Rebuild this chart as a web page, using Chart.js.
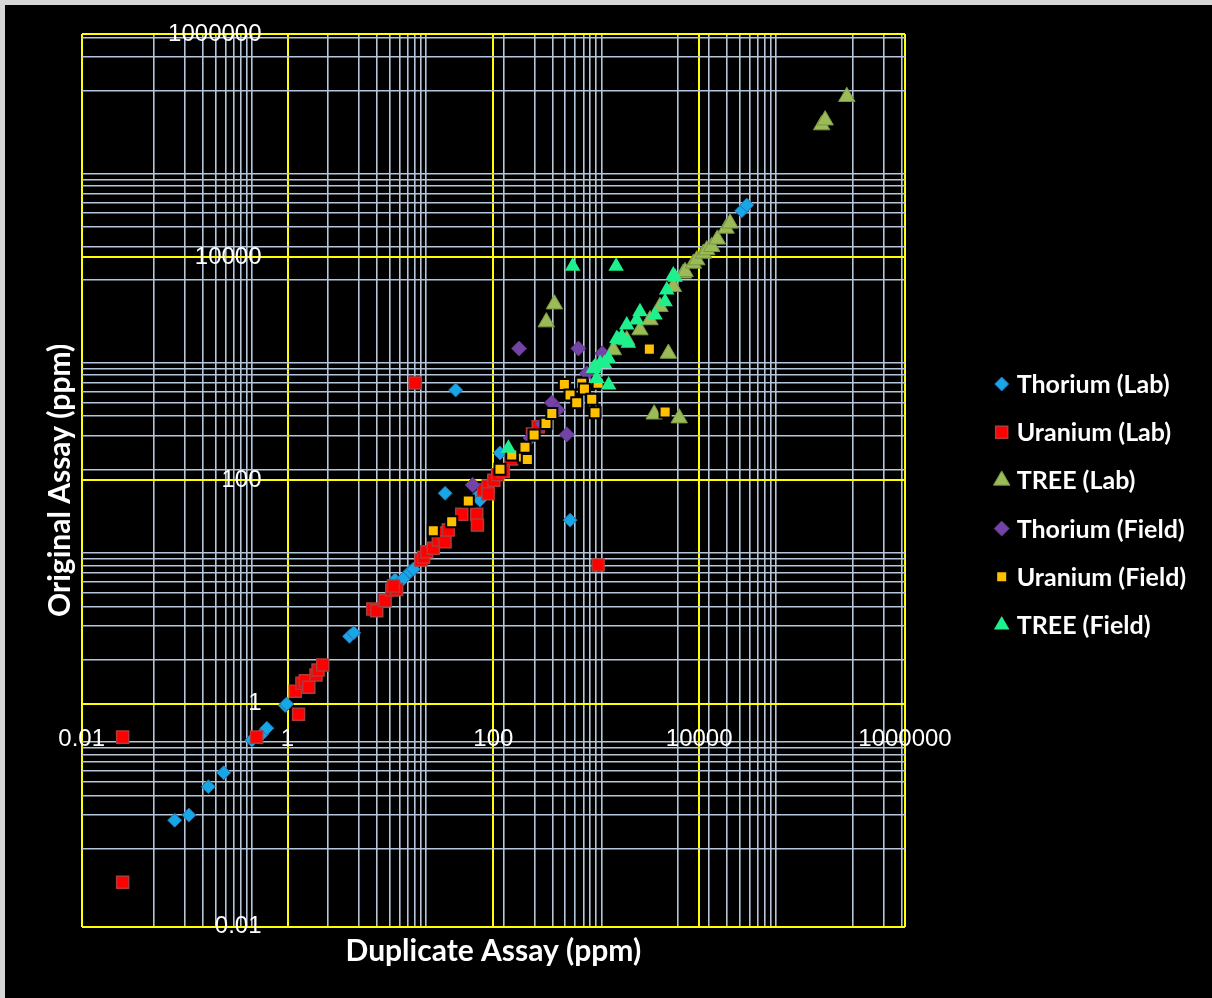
<!DOCTYPE html>
<html>
<head>
<meta charset="utf-8">
<script src="https://cdn.jsdelivr.net/npm/chart.js@4.4.1/dist/chart.umd.min.js"></script>
<style>
  html, body { margin: 0; padding: 0; background: #ffffff; }
  #wrap {
    position: absolute; left: 0; top: 0; width: 1212px; height: 998px;
    box-sizing: border-box; background: #000000;
    border-left: 5px solid #d6d6d6; border-top: 5px solid #d6d6d6;
  }
  canvas { display: block; }
</style>
</head>
<body>
<div id="wrap"><canvas id="chart" width="1207" height="993"></canvas></div>
<script>
// Assay pairs: [duplicate, original] in ppm
const thoriumLab = [
  [0.08, 0.09], [0.11, 0.10], [0.17, 0.18], [0.24, 0.24], [0.45, 0.47], [0.56, 0.53], [0.63, 0.60],
  [0.95, 0.96], [0.98, 0.99], [4.0, 4.0], [4.4, 4.3], [11.1, 12.8], [13.3, 13.1], [15.5, 15.2],
  [16.7, 16.0], [36, 38], [34, 76.5], [43, 645], [69, 71], [74, 66.5], [116, 176], [557, 44],
  [25900, 26000], [29000, 29300]
];
const uraniumLab = [
  [0.025, 0.5], [0.025, 0.025], [0.5, 0.5], [1.28, 0.8], [1.19, 1.29], [1.38, 1.52], [1.49, 1.6],
  [1.61, 1.40], [1.89, 1.80], [1.98, 2.0], [2.2, 2.21], [6.73, 7.03], [7.36, 6.79], [8.87, 8.34],
  [10.3, 10.4], [11.5, 10.5], [10.7, 11.3], [17.4, 745], [19.8, 19.3], [21, 20.5], [22.5, 22.9],
  [26.1, 24.6], [29.2, 29.2], [32.7, 33.5], [33.9, 28.2], [36.5, 35.9], [49.3, 49.6], [69, 49.6],
  [70, 39.8], [80, 82], [89, 89], [89, 76], [101, 100], [110, 112], [125, 120], [150, 155],
  [240, 260], [273, 302], [1042, 17.4]
];
const treeLab = [
  [327, 2618], [392, 3793], [1466, 1472], [1977, 1807], [2660, 2222], [3327, 2735], [4159, 3600],
  [5612, 5433], [7016, 7161], [7300, 7400], [8790, 8790], [9480, 9420], [11000, 10800],
  [11860, 11580], [13240, 12390], [15030, 14450], [18250, 18100], [19950, 20100], [5020, 1370],
  [3656, 391], [6400, 361], [155000, 152800], [167500, 169000], [272000, 274000]
];
const thoriumField = [
  [63, 91], [178, 1520], [670, 1520], [517, 258], [370, 496], [1146, 1374], [809, 910],
  [420, 430], [300, 320], [230, 240]
];
const uraniumField = [
  [26.1, 35.3], [39.4, 42.5], [57.1, 65.3], [116, 126], [151, 169], [196, 162], [214, 154],
  [203, 198], [249, 255], [325, 324], [370, 398], [490, 724], [556, 581], [646, 496], [723, 740],
  [767, 658], [904, 532], [973, 404], [1042, 742], [3281, 1500], [4667, 409]
];
const treeField = [
  [140, 194], [590, 8300], [1560, 8300], [973, 1042], [1011, 820], [938, 1007], [1089, 1117],
  [1199, 1117], [1320, 714], [1312, 1239], [1585, 1872], [1629, 1807], [1770, 1936], [2051, 1690],
  [1977, 2464], [2471, 2729], [2660, 3243], [3722, 3026], [4660, 3981], [4842, 5070],
  [5837, 6592], [5610, 6920]
];

const seriesNames = ['Thorium (Lab)', 'Uranium (Lab)', 'TREE (Lab)', 'Thorium (Field)', 'Uranium (Field)', 'TREE (Field)'];

// Labelled (major) grid values and the unlabelled minor grid values, shared by both axes
const majorTicks = [0.01, 1, 100, 10000, 1000000];
const tickLabels = ['0.01', '1', '100', '10000', '1000000'];
const minorTicks = [
  0.05, 0.1, 0.15, 0.2, 0.25, 0.3, 0.35, 0.4, 0.45,
  2.47, 4.94, 7.41, 9.88, 12.35, 14.82, 17.29, 19.76, 22.23,
  125, 250, 375, 500, 625, 750, 875, 1000, 1125, 6250,
  12400, 18600, 24800, 31000, 37200, 43400, 49600, 55800,
  310000, 620000, 930000
];

const xTitle = 'Duplicate Assay (ppm)';
const yTitle = 'Original Assay (ppm)';

const toPoints = arr => arr.map(p => ({ x: p[0], y: p[1] }));

const styles = [
  { pointStyle: 'rectRot', radius: 7, bg: '#17a6e6', border: '#2d6aa6', bw: 1 },
  { pointStyle: 'rect', radius: 8.5, bg: '#ff0000', border: '#b03a3a', bw: 1.5 },
  { pointStyle: 'triangle', radius: 9.5, bg: '#9bbb59', border: '#7a9642', bw: 1 },
  { pointStyle: 'rectRot', radius: 7.5, bg: '#7343a5', border: '#5e3789', bw: 1 },
  { pointStyle: 'rect', radius: 7.8, bg: '#ffc000', border: '#000000', bw: 2 },
  { pointStyle: 'triangle', radius: 9, bg: '#1ef08e', border: '#1ef08e', bw: 0 }
];
const seriesData = [thoriumLab, uraniumLab, treeLab, thoriumField, uraniumField, treeField];

const datasets = seriesData.map((d, i) => ({
  label: seriesNames[i],
  data: toPoints(d),
  pointStyle: styles[i].pointStyle,
  pointRadius: styles[i].radius,
  pointHoverRadius: styles[i].radius,
  pointBackgroundColor: styles[i].bg,
  pointBorderColor: styles[i].border,
  pointBorderWidth: styles[i].bw,
  showLine: false,
  order: seriesData.length - i   // later series drawn on top
}));

const gridTickValues = majorTicks.concat(minorTicks).sort((a, b) => a - b);

function setTicks(scale) {
  scale.ticks = gridTickValues.map(v => ({ value: v, major: majorTicks.includes(v) }));
}
const gridOpts = {
  color: ctx => (ctx.tick && ctx.tick.major) ? '#ffff00' : '#b6c6da',
  lineWidth: ctx => (ctx.tick && ctx.tick.major) ? 2 : 1.6,
  drawTicks: false,
  z: -1
};

// Value labels sit beside the axes that cross at 1 on each scale
const valueLabels = {
  id: 'valueLabels',
  beforeDatasetsDraw(chart) {
    const ctx = chart.ctx;
    const xs = chart.scales.x, ys = chart.scales.y;
    ctx.save();
    ctx.fillStyle = '#ffffff';
    ctx.font = '24px "Liberation Sans", Arial, sans-serif';
    ctx.textBaseline = 'middle';
    const yLabelRight = xs.getPixelForValue(1) - 26;
    const xLabelMid = ys.getPixelForValue(1) + 35.5;
    ctx.textAlign = 'right';
    majorTicks.forEach((v, i) => ctx.fillText(tickLabels[i], yLabelRight, ys.getPixelForValue(v)));
    ctx.textAlign = 'center';
    majorTicks.forEach((v, i) => ctx.fillText(tickLabels[i], xs.getPixelForValue(v), xLabelMid));
    ctx.restore();
  }
};

// Axis titles and the series key
const overlay = {
  id: 'overlay',
  afterDraw(chart) {
    const ctx = chart.ctx;
    const area = chart.chartArea;
    ctx.save();
    ctx.fillStyle = '#ffffff';
    ctx.font = 'bold 30px Lato, "Open Sans", sans-serif';
    ctx.textAlign = 'center';
    ctx.textBaseline = 'middle';
    ctx.fillText(xTitle, (area.left + area.right) / 2, 946);
    ctx.save();
    ctx.translate(55, (area.top + area.bottom) / 2);
    ctx.rotate(-Math.PI / 2);
    ctx.fillText(yTitle, 0, 0);
    ctx.restore();

    const markerX = 996.7, textX = 1011.7, startY = 379, step = 48.2;
    ctx.font = 'bold 25px Lato, "Open Sans", sans-serif';
    ctx.textAlign = 'left';
    styles.forEach((s, i) => {
      const y = startY + i * step;
      ctx.fillStyle = s.bg;
      ctx.strokeStyle = s.border;
      ctx.lineWidth = s.bw;
      Chart.helpers.drawPoint(ctx, { pointStyle: s.pointStyle, radius: s.radius, borderWidth: s.bw, rotation: 0 }, markerX, y);
      ctx.fillStyle = '#ffffff';
      ctx.fillText(seriesNames[i], textX, y + 1);
    });
    ctx.restore();
  }
};

new Chart(document.getElementById('chart'), {
  type: 'scatter',
  data: { datasets },
  options: {
    responsive: false,
    animation: false,
    events: [],
    layout: { padding: { left: 76.7, top: 29, right: 307, bottom: 71.3 } },
    plugins: { legend: { display: false }, tooltip: { enabled: false } },
    scales: {
      x: {
        type: 'logarithmic',
        position: 'bottom',
        min: 0.01, max: 1000000,
        afterBuildTicks: setTicks,
        afterFit: s => { s.height = 0; },
        grid: gridOpts,
        border: { display: false },
        ticks: { display: false, autoSkip: false, maxRotation: 0, minRotation: 0 }
      },
      y: {
        type: 'logarithmic',
        position: 'left',
        min: 0.01, max: 1000000,
        afterBuildTicks: setTicks,
        afterFit: s => { s.width = 0; },
        grid: gridOpts,
        border: { display: false },
        ticks: { display: false, autoSkip: false }
      }
    }
  },
  plugins: [valueLabels, overlay]
});
</script>
</body>
</html>
